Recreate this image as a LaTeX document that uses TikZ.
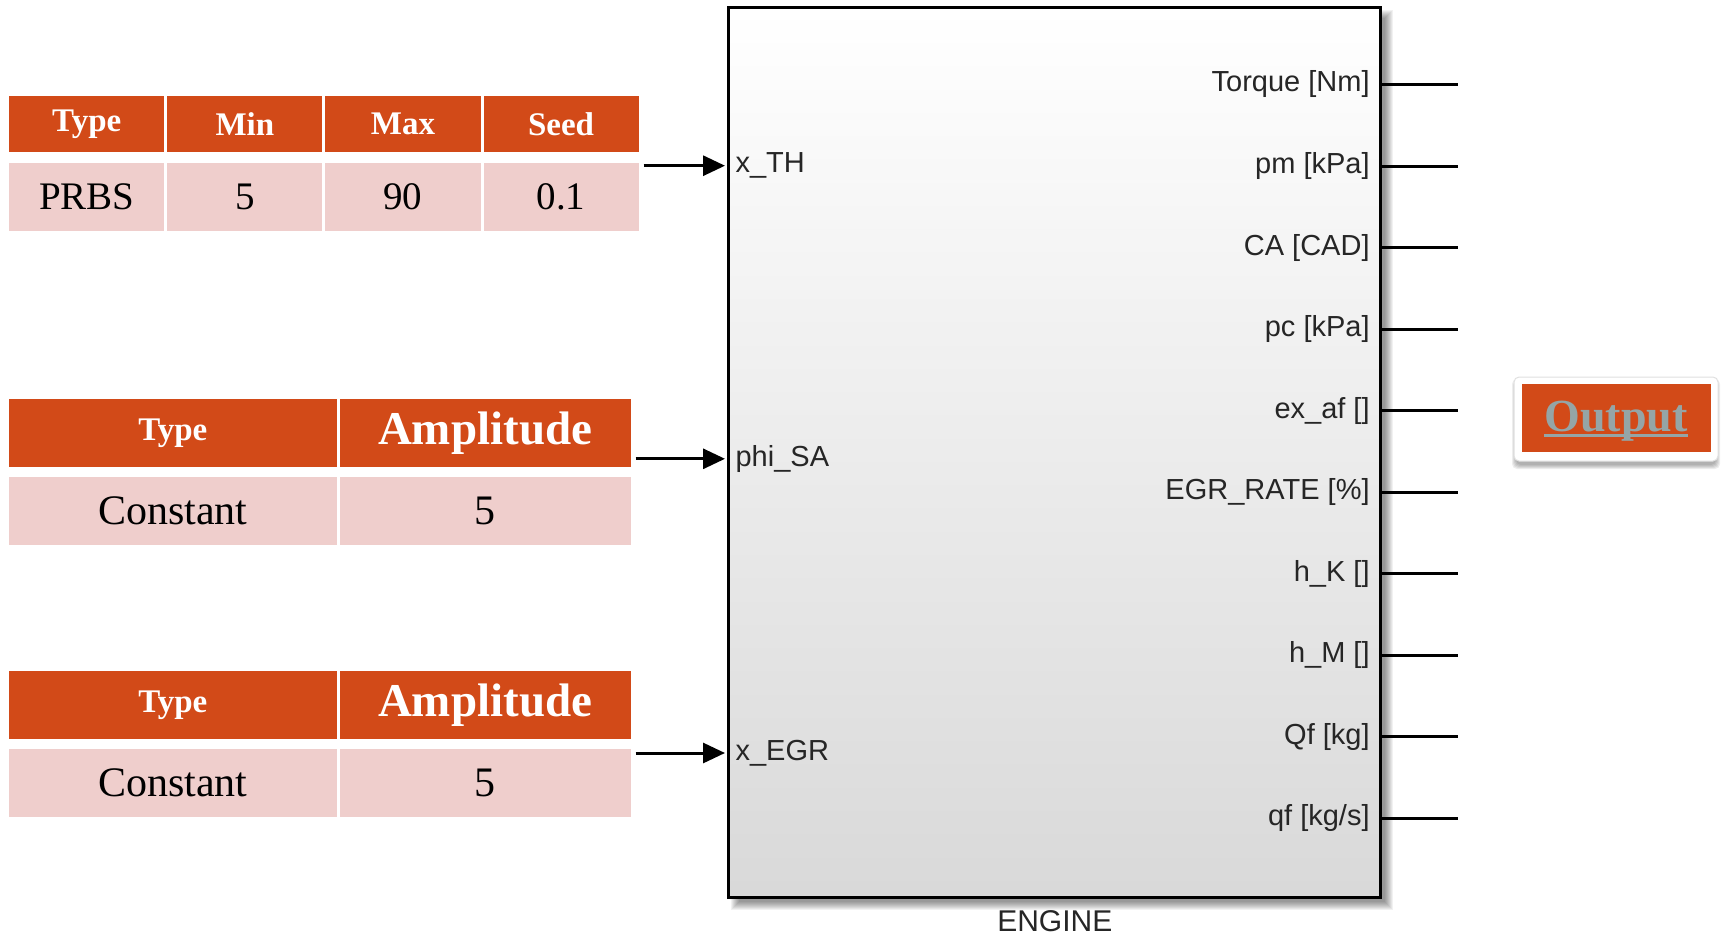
\documentclass[tikz,border=0pt]{standalone}
\usepackage{fontspec}
\setsansfont{Liberation Sans}
\newfontfamily\tabfont{Liberation Serif}
\usetikzlibrary{arrows.meta,calc}
\definecolor{hdr}{RGB}{210,74,24}
\definecolor{cellbg}{RGB}{239,206,204}
\definecolor{linkgray}{RGB}{149,165,166}
\begin{document}
\begin{tikzpicture}[x=1pt,y=-1pt,
  hcell/.style={rectangle, fill=hdr, draw=white, line width=3pt, inner sep=0pt, text=white},
  bcell/.style={rectangle, fill=cellbg, draw=white, line width=3pt, inner sep=0pt, text=black},
  hsmall/.style={font=\tabfont\bfseries\fontsize{33}{35}\selectfont},
  hbig/.style={font=\tabfont\bfseries\fontsize{47}{49}\selectfont},
  bodyA/.style={font=\tabfont\fontsize{39}{41}\selectfont},
  bodyB/.style={font=\tabfont\fontsize{42}{44}\selectfont},
  port/.style={font=\sffamily\fontsize{29}{30}\selectfont, text=black!85, inner sep=0pt},
  wire/.style={line width=3pt, black},
  sig/.style={wire, -{Triangle[length=22pt,width=20pt]}},
]
\useasboundingbox (0,0) rectangle (1721,937);

% ---------- signal source 1: PRBS ----------
\node[hcell, hsmall, minimum width=158.1pt, minimum height=59.3pt] (t1h1) at (86.75,124.05) {Type};
\node[hcell, hsmall, minimum width=158.1pt, minimum height=59.3pt] (t1h2) at (244.85,124.05) {Min};
\node[hcell, hsmall, minimum width=158.1pt, minimum height=59.3pt] (t1h3) at (402.95,124.05) {Max};
\node[hcell, hsmall, minimum width=158.1pt, minimum height=59.3pt] (t1h4) at (561.05,124.05) {Seed};
\node[bcell, bodyA, minimum width=158.1pt, minimum height=71.4pt] (t1b1) at (86.75,197) {PRBS};
\node[bcell, bodyA, minimum width=158.1pt, minimum height=71.4pt] (t1b2) at (244.85,197) {5};
\node[bcell, bodyA, minimum width=158.1pt, minimum height=71.4pt] (t1b3) at (402.95,197) {90};
\node[bcell, bodyA, minimum width=158.1pt, minimum height=71.4pt] (t1b4) at (561.05,197) {0.1};

% ---------- signal source 2: constant ----------
\node[hcell, hsmall, minimum width=330.3pt, minimum height=71.4pt] (t2h1) at (172.85,433) {Type};
\node[hcell, hbig, minimum width=294.2pt, minimum height=71.4pt] (t2h2) at (485.1,433) {Amplitude};
\node[bcell, bodyB, minimum width=330.3pt, minimum height=71.3pt] (t2b1) at (172.85,511) {Constant};
\node[bcell, bodyB, minimum width=294.2pt, minimum height=71.3pt] (t2b2) at (485.1,511) {5};

% ---------- signal source 3: constant ----------
\node[hcell, hsmall, minimum width=330.3pt, minimum height=71.4pt] (t3h1) at (172.85,705.2) {Type};
\node[hcell, hbig, minimum width=294.2pt, minimum height=71.4pt] (t3h2) at (485.1,705.2) {Amplitude};
\node[bcell, bodyB, minimum width=330.3pt, minimum height=71.3pt] (t3b1) at (172.85,783.15) {Constant};
\node[bcell, bodyB, minimum width=294.2pt, minimum height=71.3pt] (t3b2) at (485.1,783.15) {5};

% ---------- engine block ----------
\foreach \k in {0,...,8}
  \fill[black, opacity=0.055] (738.8-\k,17.7-\k) rectangle (1384.8+\k,901.8+\k);
\node[draw=black, line width=3pt, inner sep=0pt, minimum width=652pt, minimum height=890.1pt,
      top color=white, bottom color=black!15] (eng) at (1054.8,452.75) {};
\node[port, font=\sffamily\fontsize{30}{30}\selectfont] (englabel) at (1054.8,921) {ENGINE};

% input ports
\coordinate (pTH)  at (725,165.7);
\coordinate (pSA)  at (725,458.8);
\coordinate (pEGR) at (725,753);
\node[port, anchor=west] (lTH)  at (735.4,165.7) {x\_TH};
\node[port, anchor=west] (lSA)  at (735.4,458.8) {phi\_SA};
\node[port, anchor=west] (lEGR) at (735.4,753) {x\_EGR};

\draw[sig] ([xshift=2pt]t1b4.east |- pTH) -- (pTH);
\draw[sig] ([xshift=2pt]t2h2.east |- pSA) -- (pSA);
\draw[sig] ([xshift=2pt]t3b2.east |- pEGR) -- (pEGR);

% output ports
\foreach \i/\txt in {0/{Torque [Nm]},1/{pm [kPa]},2/{CA [CAD]},3/{pc [kPa]},4/{ex\_af []},
                     5/{EGR\_RATE [\%]},6/{h\_K []},7/{h\_M []},8/{Qf [kg]},9/{qf [kg/s]}}{
  \coordinate (o\i) at (1457.6,84.5+81.55*\i);
  \node[port, anchor=east] (lo\i) at (1369.8,84.5+81.55*\i) {\txt};
  \draw[wire] (eng.east |- o\i) -- (o\i);
}

% ---------- output button ----------
\foreach \k in {0,...,4}
  \fill[black, opacity=0.07, rounded corners=5pt] (1516-\k,383-\k) rectangle (1716+\k,465+\k);
\node[draw=black!12, line width=1pt, fill=white, rounded corners=5pt, inner sep=0pt,
      minimum width=204pt, minimum height=84pt] (btn) at (1616,419) {};
\node[fill=hdr, inner sep=0pt, minimum width=189pt, minimum height=68pt] (outbox) at (1616.5,418) {};
\node[text=linkgray, font=\tabfont\bfseries\fontsize{46}{46}\selectfont, inner sep=0pt, anchor=base] (outtxt) at (1616,431.7) {Output};
\draw[linkgray, line width=2.5pt] ($(outtxt.base west)+(0,4)$) -- ($(outtxt.base east)+(0,4)$);
\end{tikzpicture}
\end{document}
